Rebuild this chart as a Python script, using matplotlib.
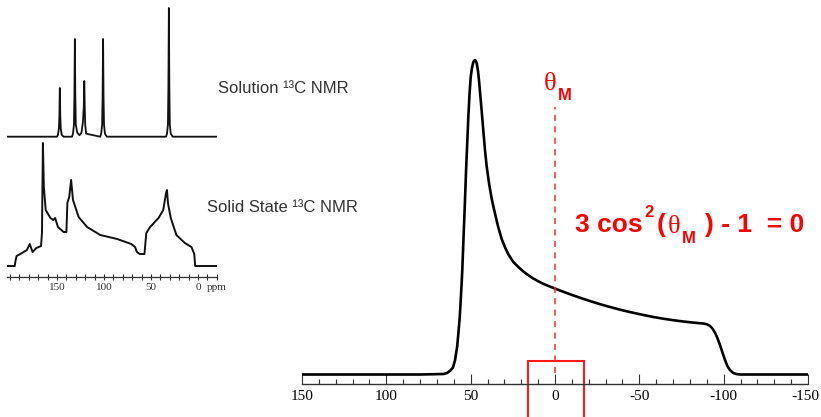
import matplotlib
matplotlib.use("Agg")
import matplotlib.pyplot as plt
import matplotlib.transforms as mtransforms
from matplotlib.patches import Rectangle
from matplotlib.ticker import MultipleLocator, FixedLocator

W, H = 821, 417

# main static powder pattern (ppm, intensity)
main_ppm = [150, 80, 66, 64, 62, 60.5, 59.3, 58, 57.3, 56.5, 55.9, 55, 54.3, 53.5, 52.8, 52,
            51.4, 50.7, 50, 49.2, 48.4, 47.9, 47.4, 46.9, 46.4, 45.6, 44.9, 43.7, 42.5, 41.5,
            40.5, 39, 37.5, 36.6, 35.1, 33.6, 31.6, 29.6, 27.6, 24.7, 21.7, 18.8, 15.8, 12.9,
            9.9, 6.9, 4, 1, -3, -6.9, -10.8, -16.7, -22.7, -28.6, -34.6, -40.5, -46.4, -52.4,
            -58.3, -64.2, -70.1, -76, -82, -87.9, -90, -91.9, -93.4, -94.8, -96.3, -97.8,
            -99.3, -100.8, -102.2, -103.7, -105.7, -107.7, -110, -150]
main_int = [0, 0, 0.5, 1.5, 4, 7, 14, 28, 41, 57, 74, 103, 134, 168, 201, 233,
            257, 280, 297, 307, 312.5, 314, 314.5, 313.5, 311, 303, 291, 268, 244, 224,
            208, 190, 175.5, 168.5, 157.5, 147, 135.5, 127, 120, 112.5, 107.5, 103, 99.3, 96,
            93.2, 90.7, 88.6, 86.6, 84, 81.5, 79.1, 75.7, 72.4, 69.4, 66.6, 64, 61.7, 59.5,
            57.5, 55.8, 54.3, 53, 51.9, 51, 50.2, 48.6, 45.8, 42, 36.5, 29.5,
            22, 14.5, 8.5, 4.5, 1.5, 0.4, 0, 0]
main_ticks = [150, 100, 50, 0, -50, -100, -150]
main_labels = ["150", "100", "50", "0", "-50", "-100", "-150"]

# inset: solution 13C spectrum
sol_ppm = [203, 150, 149, 148, 147.5, 147, 146.5, 146, 145, 143,
           134, 133, 132, 131.5, 131, 130.5, 130, 128.5, 126, 124, 122.5, 121.5, 121, 120.5,
           120, 119, 104, 103, 102, 101.5, 101, 100.5, 100, 99, 97,
           34, 33, 32, 31.5, 31, 30.5, 30, 29, 27, -20]
sol_int = [0, 0, 2, 8, 20, 48.7, 20, 8, 2, 0,
           0, 3, 12, 40, 97.7, 40, 12, 4, 1.5, 4, 14, 30, 55.7, 30,
           12, 3, 0, 3, 12, 40, 97.7, 40, 12, 3, 0,
           0, 3, 12, 50, 128.7, 50, 12, 3, 0, 0]

# inset: solid state 13C spectrum
solid_ppm = [203, 195, 194, 193, 189, 182, 179, 176, 172, 167, 166, 165, 164, 162, 157, 154,
             152, 149, 143, 140, 139, 137, 135, 133, 127, 118, 104, 86, 71, 67, 65, 62, 57,
             55, 51, 42, 37, 34, 33, 32, 29, 23, 14, 7, 4, 3, -20]
solid_int = [0, 0, 6, 10, 12, 16, 22, 14, 18, 20, 33, 123, 79, 56, 48, 46,
             48, 39, 34, 34, 63, 69, 86, 66, 49, 39, 31, 27, 22, 19, 14, 12, 12,
             33, 39, 48, 56, 73, 76, 63, 48, 31, 23, 19, 12, 0, 0]
inset_ticks = [150, 100, 50, 0]


def fx(px):
    return px / W


def fy(py):
    return 1 - py / H


fig = plt.figure(figsize=(W / 100, H / 100), dpi=100)

# ---- main chart ----
ax = fig.add_axes([fx(302), fy(384), (808 - 302) / W, (384 - 40) / H])
ax.plot(main_ppm, main_int, color="black", lw=1.9, solid_joinstyle="round")
ax.set_xlim(150, -150)
ax.set_ylim(-9.5, 334.5)
for s in ["top", "left", "right"]:
    ax.spines[s].set_visible(False)
ax.spines["bottom"].set_linewidth(1.0)
ax.spines["bottom"].set_color("#333333")
ax.set_yticks([])
ax.xaxis.set_major_locator(FixedLocator(main_ticks))
ax.set_xticklabels(main_labels, fontfamily="Liberation Serif", fontsize=11)
ax.xaxis.set_minor_locator(MultipleLocator(10))
ax.tick_params(axis="x", which="major", direction="in", length=7.2, width=0.8,
               color="#333333", pad=4)
ax.tick_params(axis="x", which="minor", direction="in", length=3.6, width=0.8,
               color="#333333")
# keep the last label inside the canvas
last = ax.get_xticklabels()[-1]
last.set_transform(last.get_transform() +
                   mtransforms.ScaledTranslation(-3 / 100, 0, fig.dpi_scale_trans))

# magic angle marker
ax.plot([0, 0], [1.5, 268], color="#f03030", lw=1.1, dashes=(4, 3.5))
ax.add_patch(Rectangle((-17, -60), 33, 73.5, fill=False, edgecolor="#ff1a1a",
                       lw=1.5, clip_on=False))

red = "#ff0000"
fig.text(fx(544), fy(90), "θ", color=red, fontfamily="Liberation Serif", fontsize=19)
fig.text(fx(558), fy(100), "M", color=red, fontfamily="Liberation Sans",
         fontweight="bold", fontsize=12)

fig.text(fx(575), fy(232), "3 cos", color=red, fontfamily="Liberation Sans",
         fontweight="bold", fontsize=19)
fig.text(fx(644), fy(217), "2", color=red, fontfamily="Liberation Sans",
         fontweight="bold", fontsize=12)
fig.text(fx(657), fy(232), "(", color=red, fontfamily="Liberation Sans",
         fontweight="bold", fontsize=19)
fig.text(fx(668), fy(233), "θ", color=red, fontfamily="Liberation Serif", fontsize=19)
fig.text(fx(682), fy(243), "M", color=red, fontfamily="Liberation Sans",
         fontweight="bold", fontsize=12)
fig.text(fx(705), fy(232), ") - 1  = 0", color=red, fontfamily="Liberation Sans",
         fontweight="bold", fontsize=19)

# ---- inset spectra ----
ins = fig.add_axes([fx(7), fy(277), (217 - 7) / W, 277 / H])
ins.plot(sol_ppm, [v + 140.3 for v in sol_int], color="#111111", lw=1.3)
ins.plot(solid_ppm, [v + 11 for v in solid_int], color="#111111", lw=1.4)
ins.set_xlim(203.2, -20.2)
ins.set_ylim(0, 277)
for s in ["top", "left", "right"]:
    ins.spines[s].set_visible(False)
ins.spines["bottom"].set_color("#333333")
ins.spines["bottom"].set_linewidth(0.9)
ins.set_yticks([])
ins.xaxis.set_major_locator(FixedLocator(inset_ticks))
ins.set_xticklabels([str(t) for t in inset_ticks], fontfamily="Liberation Serif",
                    fontsize=8, color="#333333")
ins.xaxis.set_minor_locator(MultipleLocator(10))
ins.tick_params(axis="x", which="both", direction="inout", length=4, width=0.8,
                color="#333333", pad=2)
ins.patch.set_alpha(0)

fig.text(fx(207), fy(290), "ppm", fontfamily="Liberation Serif", fontsize=8,
         color="#333333")
fig.text(fx(218), fy(93), "Solution ¹³C NMR", fontfamily="Liberation Sans",
         fontsize=12, color="#333333")
fig.text(fx(207), fy(212), "Solid State ¹³C NMR", fontfamily="Liberation Sans",
         fontsize=12, color="#333333")

fig.savefig("out.png", dpi=100)
